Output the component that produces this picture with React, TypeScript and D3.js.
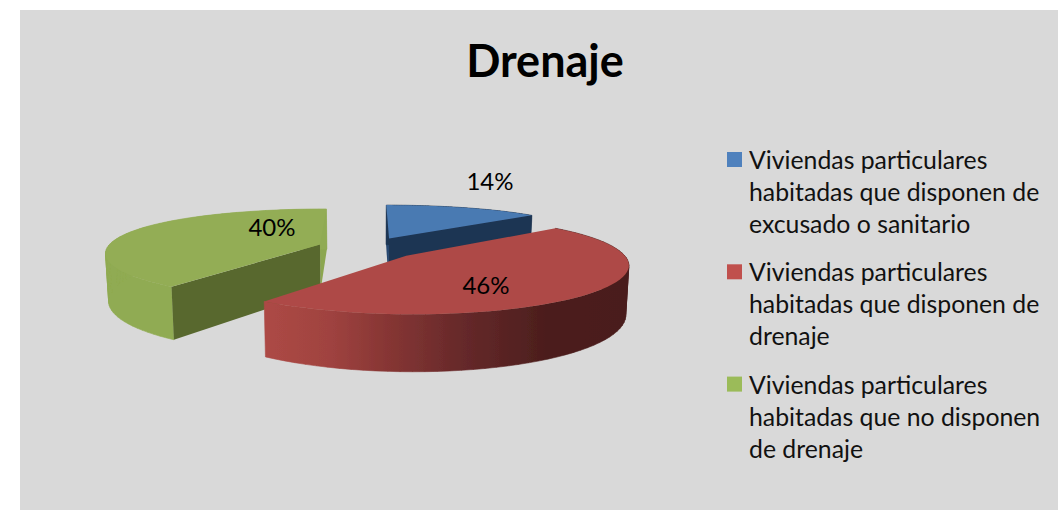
import React from "react";
import * as d3 from "d3";

const categories = [
  ["Viviendas particulares", "habitadas que disponen de", "excusado o sanitario"],
  ["Viviendas particulares", "habitadas que disponen de", "drenaje"],
  ["Viviendas particulares", "habitadas que no disponen", "de drenaje"],
];
const values = [14, 46, 40];
const legendColors = ["#4f81bd", "#c0504d", "#9bbb59"];
const topColors = ["#4a7ab2", "#ae4a46", "#93ad55"];
const cutColors = ["#1f3552", "#000000", "#58682f"];
const sliverColors = ["#27476f", "#000000", "#8ba64f"];
const wallStops = ["#1f3552", "", "#90ab53"];
const title = "Drenaje";
const labelPositions = [[490, 182], [486, 286], [272, 228]];

const W = 1058, H = 510;
const cx = 368, cy = 248, R = 213, Ry = 46.5, k = 0.157, explode = 0.24, D = 47;

type P = [number, number];
const project = (U: number, V: number, low: boolean): P => {
  const f = 1 / (1 + k * V);
  const shrink = low ? 0.988 : 1;
  const ry = Ry * (1 - 0.08 * Math.max(V, 0));
  return [cx + R * U * f * shrink, cy - ry * V * f + (low ? D * f : 0)];
};

const arcs = d3.pie<number>().sort(null).startAngle(0).endAngle(2 * Math.PI)(values);
const line = d3.line();

function geom(i: number) {
  const a = arcs[i];
  const mid = (a.startAngle + a.endAngle) / 2;
  const ax = explode * Math.sin(mid), ay = explode * Math.cos(mid);
  const ts = d3.range(0, 61).map((j) => a.startAngle + ((a.endAngle - a.startAngle) * j) / 60);
  const top = ts.map((t) => project(ax + Math.sin(t), ay + Math.cos(t), false));
  const low = ts.map((t) => project(ax + Math.sin(t), ay + Math.cos(t), true));
  return { apexT: project(ax, ay, false), apexB: project(ax, ay, true), top, low };
}

const redStops: [string, string][] = [
  ["0", "#ad4945"], ["0.18", "#a04340"], ["0.34", "#873634"], ["0.55", "#66292a"], ["0.78", "#4c1e1d"], ["1", "#4a1d1c"],
];

function Slice({ i }: { i: number }) {
  const g = geom(i);
  const n = g.top.length - 1;
  const wallFill = i === 1 ? "url(#redWall)" : wallStops[i];
  const wallPath = g.top
    .slice(1)
    .map((p, j) => {
      const quad: P[] = [g.top[j], p, g.low[j + 1], g.low[j]];
      const ordered = d3.polygonArea(quad) < 0 ? quad.reverse() : quad;
      return line(ordered)! + "Z";
    })
    .join("");
  return (
    <g>
      {i === 0 && <path d={line([g.apexT, g.top[0], g.low[0], g.apexB])! + "Z"} fill={sliverColors[i]} />}
      {i === 2 && <path d={line([g.apexT, g.top[n], g.low[n], g.apexB])! + "Z"} fill={sliverColors[i]} />}
      <path d={wallPath} fill={wallFill} stroke={wallFill} strokeWidth={0.6} />
      {i === 0 && <path d={line([g.apexT, g.top[n], g.low[n], g.apexB])! + "Z"} fill={cutColors[i]} />}
      {i === 2 && <path d={line([g.apexT, g.top[0], g.low[0], g.apexB])! + "Z"} fill={cutColors[i]} />}
      <path d={line([g.apexT, ...g.top])! + "Z"} fill={topColors[i]} />
    </g>
  );
}

export default function App() {
  const font = "Lato, 'Open Sans', sans-serif";
  return (
    <svg width={W} height={H} style={{ position: "absolute", left: 0, top: 0, display: "block", background: "#fff" }}>
      <defs>
        <linearGradient id="redWall" gradientUnits="userSpaceOnUse" x1={263} x2={625} y1={0} y2={0}>
          {redStops.map(([o, c]) => <stop key={o} offset={o} stopColor={c} />)}
        </linearGradient>
        <filter id="soft" x="-5%" y="-5%" width="110%" height="110%">
          <feGaussianBlur stdDeviation="0.5" />
        </filter>
      </defs>
      <rect x={20} y={10} width={W - 20} height={H - 10} fill="#d9d9d9" />
      <text x={545} y={77} textAnchor="middle" fontFamily={font} fontWeight={700} fontSize={45} fill="#000">{title}</text>
      <g filter="url(#soft)">
        {[0, 2, 1].map((i) => <Slice key={i} i={i} />)}
      </g>
      {values.map((v, i) => (
        <text key={i} x={labelPositions[i][0]} y={labelPositions[i][1]} dy="0.35em" textAnchor="middle" fontFamily={font} fontSize={24} fill="#000">
          {d3.format(".0%")(v / d3.sum(values))}
        </text>
      ))}
      {categories.map((lines, i) => {
        const y0 = 169 + i * 112.3;
        return (
          <g key={i}>
            <rect x={727} y={y0 - 17} width={15} height={15} fill={legendColors[i]} />
            {lines.map((l, j) => (
              <text key={j} x={749} y={y0 + j * 32} fontFamily={font} fontSize={24.8} fill="#111">{l}</text>
            ))}
          </g>
        );
      })}
    </svg>
  );
}
